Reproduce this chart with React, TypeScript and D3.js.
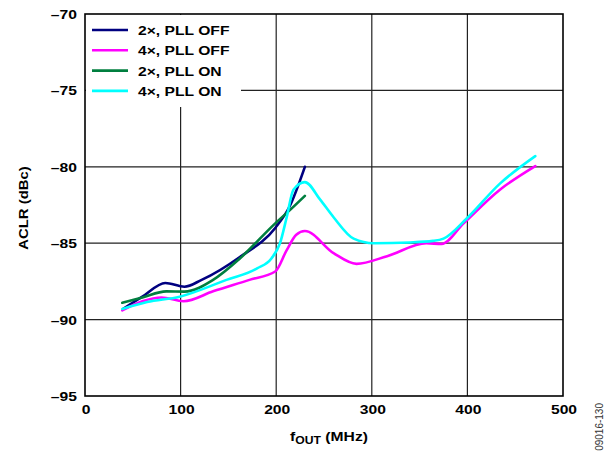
import React from "react";
import * as d3 from "d3";

const xTicks = [0, 100, 200, 300, 400, 500];
const yTicks = [-70, -75, -80, -85, -90, -95];

const s2xOff: [number, number][] = [[40,-89.3],[60,-88.5],[84,-87.6],[104,-87.85],[122,-87.4],[162,-85.9],[199,-84.0],[214,-82.6],[230,-80.0]];
const s4xOff: [number, number][] = [[39,-89.4],[60,-88.8],[80,-88.55],[103,-88.8],[134,-88.15],[172,-87.4],[199,-86.85],[211,-85.45],[221,-84.45],[230,-84.2],[260,-85.65],[284,-86.35],[316,-85.85],[357,-85.0],[373,-85.05],[396,-83.7],[434,-81.5],[471,-79.95]];
const s2xOn: [number, number][] = [[39,-88.9],[60,-88.55],[85,-88.15],[104,-88.17],[134,-87.4],[162,-86.0],[199,-83.7],[214,-82.85],[230,-81.9]];
const s4xOn: [number, number][] = [[39,-89.3],[65,-88.85],[99,-88.5],[148,-87.4],[180,-86.65],[195,-86.0],[204,-85.0],[211,-83.3],[218,-81.5],[230,-81.0],[246,-82.15],[260,-83.3],[281,-84.7],[302,-85.0],[340,-84.95],[364,-84.85],[375,-84.7],[399,-83.4],[434,-81.1],[471,-79.3]];

const series = [
  { name: "2\u00d7, PLL OFF", color: "#000080", data: s2xOff },
  { name: "4\u00d7, PLL OFF", color: "#ff00ff", data: s4xOff },
  { name: "2\u00d7, PLL ON", color: "#007f3f", data: s2xOn },
  { name: "4\u00d7, PLL ON", color: "#00ffff", data: s4xOn },
];

const SX = 1.16;
const FS = 13.5;

function T({ x, y, anchor = "start", children, size = FS }: any) {
  return (
    <g transform={`translate(${x},${y}) scale(${SX},1)`}>
      <text x={0} y={0} textAnchor={anchor} fontSize={size} fontWeight="bold">{children}</text>
    </g>
  );
}

export default function App() {
  const W = 609, H = 456;
  const L = 85, R = 563, T0 = 14, B = 396;
  const x = d3.scaleLinear().domain([0, 500]).range([L, R]);
  const y = d3.scaleLinear().domain([-95, -70]).range([B, T0]);
  const line = d3.line<[number, number]>().x(d => x(d[0])).y(d => y(d[1])).curve(d3.curveMonotoneX);
  const font = "Arial, 'Liberation Sans', Helvetica, sans-serif";
  return (
    <svg width={W} height={H} style={{ position: "absolute", left: 0, top: 0 }} fontFamily={font}>
      <rect width={W} height={H} fill="#fff" />
      {xTicks.slice(1, -1).map(t => (
        <line key={"gx" + t} x1={x(t)} x2={x(t)} y1={T0} y2={B} stroke="#222" strokeWidth={1.2} />
      ))}
      {yTicks.slice(1, -1).map(t => (
        <line key={"gy" + t} x1={L} x2={R} y1={y(t)} y2={y(t)} stroke="#222" strokeWidth={1.2} />
      ))}
      <rect x={L + 1} y={T0 + 1} width={155} height={92} fill="#fff" />
      {series.map(s => (
        <path key={s.name} d={line(s.data) || ""} fill="none" stroke={s.color} strokeWidth={2.6} strokeLinecap="round" />
      ))}
      <rect x={L} y={T0} width={R - L} height={B - T0} fill="none" stroke="#000" strokeWidth={1.6} />
      {series.map((s, i) => (
        <g key={"lg" + i}>
          <line x1={92} x2={128} y1={30 + i * 20.3} y2={30 + i * 20.3} stroke={s.color} strokeWidth={2.6} />
          <T x={138} y={35 + i * 20.3}>{s.name}</T>
        </g>
      ))}
      {yTicks.map(t => (
        <T key={"yt" + t} x={77} y={y(t) + 5} anchor="end">{"\u2013" + Math.abs(t)}</T>
      ))}
      {xTicks.map(t => (
        <T key={"xt" + t} x={x(t) + 1} y={414} anchor="middle">{t}</T>
      ))}
      <g transform="translate(329,441) scale(1.16,1)">
        <text x={0} y={0} textAnchor="middle" fontSize={FS} fontWeight="bold">
          f<tspan fontSize={10.5} dy={3}>OUT</tspan><tspan dy={-3}> (MHz)</tspan>
        </text>
      </g>
      <g transform="translate(28, 208) rotate(-90) scale(1.1,1)">
        <text x={0} y={0} textAnchor="middle" fontSize={FS} fontWeight="bold">ACLR (dBc)</text>
      </g>
      <text transform="translate(603, 403) rotate(-90)" textAnchor="end" fontSize={10} fill="#333">09016-130</text>
    </svg>
  );
}
